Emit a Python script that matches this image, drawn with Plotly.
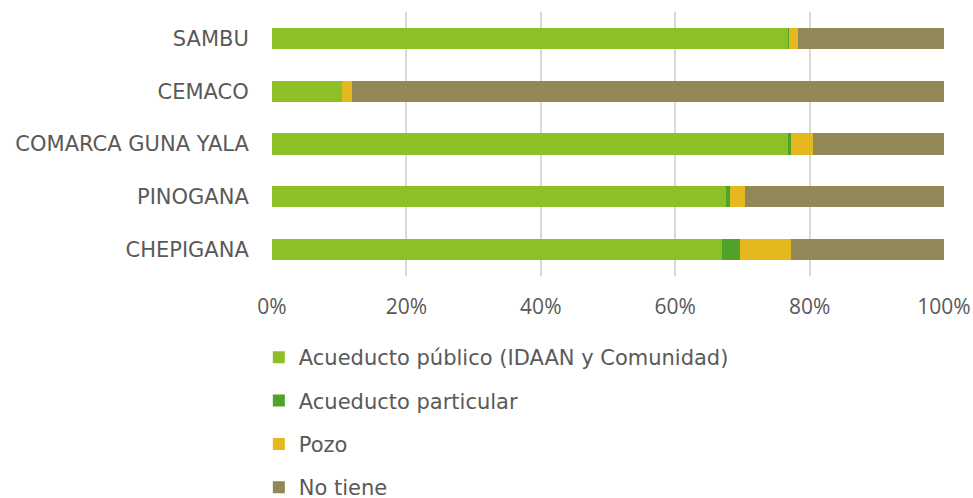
import plotly.graph_objects as go

categories = ["SAMBU", "CEMACO", "COMARCA GUNA YALA", "PINOGANA", "CHEPIGANA"]
acueducto_publico = [76.8, 10.4, 76.8, 67.6, 66.9]
acueducto_particular = [0.2, 0.0, 0.4, 0.6, 2.7]
pozo = [1.2, 1.5, 3.3, 2.2, 7.6]
no_tiene = [21.8, 88.1, 19.5, 29.6, 22.8]

series = [
    ("Acueducto público (IDAAN y Comunidad)", acueducto_publico, "#8DC026"),
    ("Acueducto particular", acueducto_particular, "#50A328"),
    ("Pozo", pozo, "#E6B820"),
    ("No tiene", no_tiene, "#928756"),
]

fig = go.Figure()
for i, (name, vals, color) in enumerate(series):
    fig.add_trace(go.Bar(
        y=categories, x=vals, name=name, orientation="h",
        marker=dict(color=color, line=dict(width=0)),
        legendgroup=str(i), legendrank=i + 1,
    ))

font = "DejaVu Sans, sans-serif"
fig.update_layout(
    width=973, height=498,
    barmode="stack", barnorm="percent", bargap=0.6,
    plot_bgcolor="white", paper_bgcolor="white",
    margin=dict(l=272, r=29, t=11.5, b=221.5, autoexpand=False),
    font=dict(family=font, size=21, color="#595959"),
    xaxis=dict(
        range=[0, 100], tickvals=[0, 20, 40, 60, 80, 100],
        ticktext=["0%", "20%", "40%", "60%", "80%", "100%"],
        tickfont=dict(family="Open Sans, sans-serif", size=21),
        showgrid=True, gridcolor="#D9D9D9", gridwidth=2,
        zeroline=False, showline=False, tickangle=0,
        ticks="outside", ticklen=12, tickcolor="rgba(0,0,0,0)",
    ),
    yaxis=dict(
        autorange="reversed", showgrid=False, showline=False,
        ticks="outside", ticklen=18, tickcolor="rgba(0,0,0,0)",
    ),
    legend=dict(
        orientation="v", traceorder="grouped", tracegroupgap=13,
        xref="container", yref="container", x=0.266, y=0.323,
        xanchor="left", yanchor="top",
        font=dict(size=21, color="#595959"),
        itemwidth=30,
    ),
    showlegend=True,
)

fig.write_html("out.html", config={"displayModeBar": False},
               post_script="document.body.style.margin='0';")
